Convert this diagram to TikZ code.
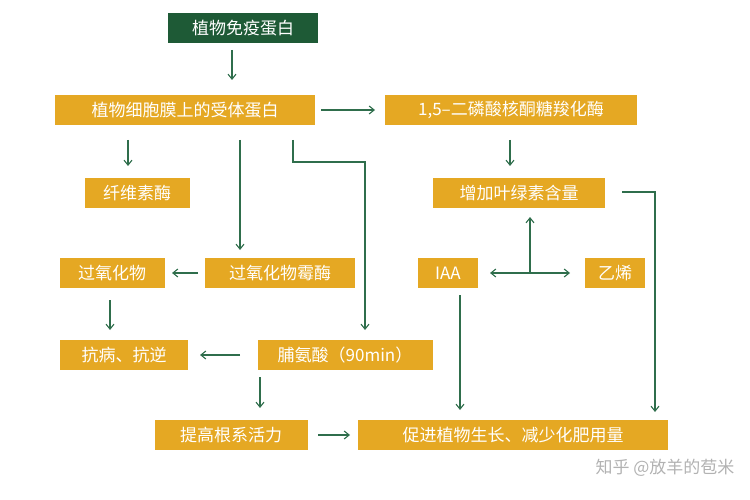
\documentclass[tikz,border=0pt]{standalone}
\usepackage{fontspec}
\newfontfamily\cjk{Noto Sans CJK SC}
\usetikzlibrary{arrows.meta}
\definecolor{boxorange}{HTML}{E5A823}
\definecolor{boxgreen}{HTML}{1E5A36}
\definecolor{linegreen}{HTML}{2F6E4C}

\tikzset{
  box/.style={fill=boxorange,text=white,font=\cjk\fontsize{17}{19}\selectfont,
    minimum height=30pt,inner xsep=6pt,anchor=center},
  topbox/.style={box,fill=boxgreen},
  link/.style={draw=linegreen,line width=1.1pt,-{Straight Barb[length=5pt,width=8pt]}}
}

\begin{document}
\begin{tikzpicture}[x=1pt,y=-1pt]
    \useasboundingbox (0,0) rectangle (750,500);
    \node[topbox,minimum width=150pt] (immune)   at (243,28)  {植物免疫蛋白};
    \node[box,minimum width=260pt] (receptor)    at (185,110) {植物细胞膜上的受体蛋白};
    \node[box,minimum width=252pt] (rubisco)     at (511,110) {1,5–二磷酸核酮糖羧化酶};
    \node[box,minimum width=105pt] (cellulase)   at (137,193) {纤维素酶};
    \node[box,minimum width=172pt] (chloro)      at (519,193) {增加叶绿素含量};
    \node[box,minimum width=105pt] (peroxide)    at (112,273) {过氧化物};
    \node[box,minimum width=150pt] (peroxidase)  at (280,273) {过氧化物霉酶};
    \node[box,minimum width=60pt]  (iaa)         at (448,273) {IAA};
    \node[box,minimum width=60pt]  (ethylene)    at (615,273) {乙烯};
    \node[box,minimum width=128pt] (resist)      at (124,355) {抗病、抗逆};
    \node[box,minimum width=175pt] (proline)     at (345,355) {脯氨酸（90min）};
    \node[box,minimum width=153pt] (roots)       at (231,435) {提高根系活力};
    \node[box,minimum width=310pt] (growth)      at (513,435) {促进植物生长、减少化肥用量};
    \node[text=gray!60,font=\cjk\fontsize{17}{19}\selectfont] (mark) at (665,468) {知乎 @放羊的苞米};
    % top part
    \draw[link] (232,50) -- (232,80);
    \draw[link] (321,110) -- (375,110);
    \draw[link] (128,140) -- (128,166);
    \draw[link] (240,140) -- (240,250);
    \draw[link] (293,140) -- (293,162) -- (365,162) -- (365,330);
    \draw[link] (510,140) -- (510,166);
    \draw[link] (622,192) -- (655,192) -- (655,412);
    % middle
    \draw[link] (198,273) -- (172,273);
    \draw[link] (530,273) -- (530,217);
    \draw[link] (530,273) -- (490,273);
    \draw[link] (530,273) -- (570,273);
    \draw[link] (460,295) -- (460,410);
    \draw[link] (110,300) -- (110,330);
    % bottom
    \draw[link] (240,355) -- (200,355);
    \draw[link] (260,377) -- (260,408);
    \draw[link] (318,435) -- (350,435);
\end{tikzpicture}
\end{document}
